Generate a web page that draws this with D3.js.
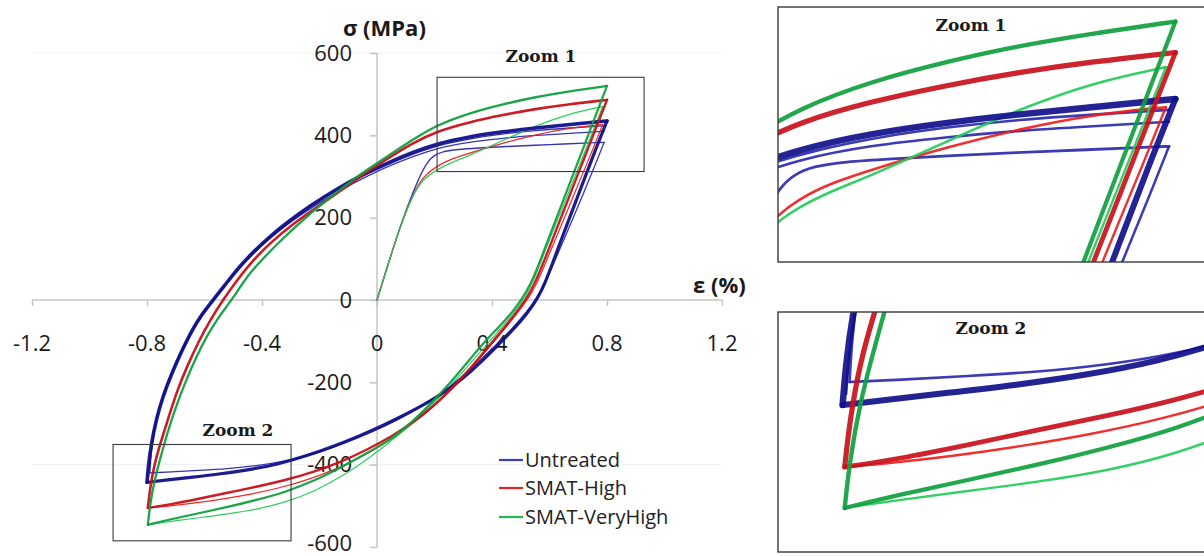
<!DOCTYPE html>
<html>
<head>
<meta charset="utf-8">
<script src="https://cdn.jsdelivr.net/npm/d3@7"></script>
<style>
  html, body { margin: 0; padding: 0; background: #fff; }
  svg { display: block; }
</style>
</head>
<body>
<svg id="chart" width="1204" height="556"></svg>
<script>
// ---------------- DATA ----------------
const xTicks = [-1.2, -0.8, -0.4, 0, 0.4, 0.8, 1.2];
const yTicks = [600, 400, 200, 0, -200, -400, -600];
const seriesNames = ["Untreated", "SMAT-High", "SMAT-VeryHigh"];
const xAxisTitle = "ε (%)";
const yAxisTitle = "σ (MPa)";
const zoomLabels = ["Zoom 1", "Zoom 2"];

// zoom boxes drawn on the main chart: [xmin, xmax, ymin, ymax]
const zoomBox1 = [0.209, 0.929, 312, 541];
const zoomBox2 = [-0.918, -0.299, -585, -351];
// data window shown in the magnified panels: [xmin, xmax, ymin, ymax]
const zoomView1 = [0.175, 0.845, 256, 536];
const zoomView2 = [-0.893, -0.28, -590, -350];

// Untreated (strain %, stress MPa)
const untreatedInitial = [[0,0],[0.04,90],[0.08,178],[0.125,262],[0.155,310],[0.178,338],[0.20,352],[0.23,361],[0.28,366],[0.35,369],[0.45,373],[0.55,376],[0.65,379],[0.75,382],[0.79,383]];
const untreatedCycle1Desc = [[0.79,383],[0.76,330],[0.72,262],[0.68,195],[0.64,130],[0.61,82],[0.585,42],[0.56,8],[0.52,-30],[0.47,-70],[0.41,-112],[0.35,-152],[0.29,-190],[0.22,-228],[0.15,-260],[0.07,-292],[-0.02,-322],[-0.12,-350],[-0.22,-374],[-0.32,-392],[-0.42,-403],[-0.52,-410],[-0.62,-414],[-0.72,-418],[-0.79,-420]];
const untreatedCycle1Asc = [[-0.79,-420],[-0.786,-370],[-0.772,-300],[-0.748,-235],[-0.715,-175],[-0.678,-118],[-0.64,-70],[-0.60,-28],[-0.56,8],[-0.52,42],[-0.48,76],[-0.43,113],[-0.37,152],[-0.30,190],[-0.22,228],[-0.13,266],[-0.03,303],[0.05,328],[0.13,350],[0.21,369],[0.32,384],[0.44,393],[0.55,400],[0.67,405],[0.79,410]];
const untreatedCycle2Asc = [[-0.795,-432],[-0.79,-385],[-0.777,-320],[-0.757,-260],[-0.73,-205],[-0.697,-150],[-0.66,-98],[-0.622,-52],[-0.585,-14],[-0.55,18],[-0.51,52],[-0.465,90],[-0.41,130],[-0.345,170],[-0.27,210],[-0.185,250],[-0.09,288],[0.0,318],[0.08,342],[0.16,364],[0.24,380],[0.34,394],[0.44,404],[0.55,412],[0.67,418],[0.79,423]];
const untreatedStabAsc = [[-0.80,-443],[-0.795,-400],[-0.785,-350],[-0.768,-290],[-0.745,-235],[-0.715,-180],[-0.68,-125],[-0.645,-75],[-0.61,-35],[-0.57,0],[-0.53,35],[-0.49,72],[-0.44,110],[-0.38,150],[-0.31,190],[-0.23,230],[-0.14,270],[-0.04,308],[0.045,335],[0.12,358],[0.209,380],[0.32,397],[0.44,409],[0.55,418],[0.67,426],[0.80,435]];
const untreatedStabDesc = [[0.80,435],[0.76,365],[0.72,292],[0.68,218],[0.64,145],[0.61,88],[0.585,42],[0.56,5],[0.52,-35],[0.47,-75],[0.42,-110],[0.36,-152],[0.30,-190],[0.24,-222],[0.17,-252],[0.10,-278],[0.02,-305],[-0.06,-330],[-0.15,-355],[-0.25,-380],[-0.35,-400],[-0.45,-413],[-0.55,-423],[-0.65,-431],[-0.74,-438],[-0.80,-443]];

// SMAT-High
const highInitial = [[0,0],[0.04,90],[0.08,178],[0.125,258],[0.16,300],[0.209,326],[0.26,343],[0.325,358],[0.44,382],[0.555,402],[0.67,418],[0.785,426]];
const highCycle1Desc = [[0.785,426],[0.75,365],[0.71,298],[0.67,230],[0.63,163],[0.595,105],[0.57,62],[0.545,25],[0.515,-8],[0.47,-48],[0.42,-90],[0.36,-140],[0.30,-188],[0.24,-232],[0.17,-275],[0.10,-313],[0.03,-348],[-0.05,-380],[-0.14,-410],[-0.24,-437],[-0.34,-457],[-0.44,-472],[-0.54,-484],[-0.64,-494],[-0.73,-501],[-0.797,-505]];
const highStabAsc = [[-0.797,-505],[-0.79,-460],[-0.775,-400],[-0.752,-345],[-0.725,-285],[-0.695,-220],[-0.66,-160],[-0.62,-100],[-0.58,-48],[-0.536,0],[-0.49,45],[-0.44,90],[-0.37,140],[-0.29,186],[-0.20,230],[-0.117,270],[-0.048,305],[0.035,343],[0.12,380],[0.209,410],[0.32,432],[0.44,450],[0.55,464],[0.67,476],[0.80,486]];
const highStabDesc = [[0.80,486],[0.76,415],[0.72,343],[0.68,272],[0.64,200],[0.60,128],[0.57,75],[0.545,35],[0.52,3],[0.48,-35],[0.43,-78],[0.37,-128],[0.31,-178],[0.25,-222],[0.19,-262],[0.12,-300],[0.05,-332],[-0.03,-362],[-0.12,-392],[-0.22,-418],[-0.32,-438],[-0.42,-454],[-0.52,-468],[-0.62,-483],[-0.72,-497],[-0.797,-505]];

// SMAT-VeryHigh
const veryHighInitial = [[0,0],[0.04,90],[0.08,178],[0.125,256],[0.16,294],[0.209,317],[0.26,334],[0.325,352],[0.44,388],[0.555,424],[0.67,453],[0.785,470]];
const veryHighCycle1Desc = [[0.785,470],[0.75,408],[0.71,338],[0.67,268],[0.63,198],[0.595,138],[0.57,92],[0.545,48],[0.52,12],[0.48,-28],[0.43,-70],[0.37,-118],[0.31,-166],[0.25,-212],[0.18,-262],[0.11,-308],[0.04,-348],[-0.03,-385],[-0.12,-428],[-0.22,-466],[-0.32,-492],[-0.42,-509],[-0.52,-520],[-0.62,-529],[-0.72,-538],[-0.797,-546]];
const veryHighStabAsc = [[-0.797,-546],[-0.79,-500],[-0.775,-440],[-0.752,-380],[-0.728,-320],[-0.70,-260],[-0.667,-200],[-0.63,-140],[-0.59,-85],[-0.55,-40],[-0.505,0],[-0.45,60],[-0.395,102],[-0.33,148],[-0.262,192],[-0.19,235],[-0.117,274],[-0.059,305],[0.0,332],[0.06,360],[0.13,392],[0.209,425],[0.32,454],[0.44,476],[0.55,493],[0.67,507],[0.80,520]];
const veryHighStabDesc = [[0.80,520],[0.76,447],[0.72,374],[0.68,301],[0.64,228],[0.60,155],[0.57,100],[0.545,55],[0.52,20],[0.48,-22],[0.43,-62],[0.38,-96],[0.31,-155],[0.25,-205],[0.19,-250],[0.12,-298],[0.05,-338],[-0.03,-370],[-0.12,-405],[-0.22,-440],[-0.32,-467],[-0.42,-486],[-0.52,-503],[-0.62,-518],[-0.72,-533],[-0.797,-546]];

// ---------------- STYLE / LAYOUT ----------------
const W = 1204, H = 556;
const colors = {
  blueThin: "#2a2ab0", blueThick: "#10108a",
  redThin: "#ee1c1c", redThick: "#c8101a",
  greenThin: "#22cc5a", greenThick: "#0f9f3e",
  legendBlue: "#3b3bc4", legendRed: "#de2424", legendGreen: "#27b552"
};
const curves = [
  { d: untreatedInitial, c: colors.blueThin, w: 1.4, pw: 2.8 },
  { d: untreatedCycle1Desc, c: colors.blueThin, w: 1.3, pw: 2.6 },
  { d: untreatedCycle1Asc, c: colors.blueThin, w: 1.3, pw: 2.6 },
  { d: untreatedCycle2Asc, c: colors.blueThin, w: 1.3, pw: 2.6 },
  { d: highInitial, c: colors.redThin, w: 1.3, pw: 2.6 },
  { d: highCycle1Desc, c: colors.redThin, w: 1.2, pw: 2.4 },
  { d: veryHighInitial, c: colors.greenThin, w: 1.3, pw: 2.6 },
  { d: veryHighCycle1Desc, c: colors.greenThin, w: 1.2, pw: 2.4 },
  { d: untreatedStabAsc, c: colors.blueThick, w: 3.6, pw: 6.5 },
  { d: untreatedStabDesc, c: colors.blueThick, w: 3.2, pw: 6.0 },
  { d: highStabAsc, c: colors.redThick, w: 2.6, pw: 5.2 },
  { d: highStabDesc, c: colors.redThick, w: 2.4, pw: 4.8 },
  { d: veryHighStabAsc, c: colors.greenThick, w: 2.3, pw: 4.4 },
  { d: veryHighStabDesc, c: colors.greenThick, w: 2.2, pw: 4.2 }
];

const svg = d3.select("#chart");
svg.append("rect").attr("width", W).attr("height", H).attr("fill", "#fff");

const x = d3.scaleLinear().domain([-1.2, 1.2]).range([32, 722]);
const y = d3.scaleLinear().domain([-600, 600]).range([547, 53]);

const sansFont = "'Open Sans', 'Liberation Sans', sans-serif";
const serifFont = "'DejaVu Serif', serif";
const curveType = d3.curveBasis;

// faint gridlines
svg.append("g").selectAll("line").data([600, -400]).join("line")
  .attr("x1", x(-1.2)).attr("x2", x(1.2))
  .attr("y1", d => y(d)).attr("y2", d => y(d))
  .attr("stroke", "#f1f1f1").attr("stroke-width", 1.2);

// x axis (through origin)
const xAxis = d3.axisBottom(x).tickValues(xTicks).tickSize(6).tickFormat("");
const gx = svg.append("g").attr("transform", `translate(0,${y(0)})`).call(xAxis);
gx.select(".domain").attr("stroke", "#c4c4c4").attr("stroke-width", 1.5).attr("d", `M${x(-1.2)},0H${x(1.2)}`);
gx.selectAll(".tick line").attr("stroke", "#c4c4c4").attr("stroke-width", 1.5);

// y axis (through origin)
const yAxis = d3.axisLeft(y).tickValues(yTicks).tickSize(7).tickFormat("");
const gy = svg.append("g").attr("transform", `translate(${x(0)},0)`).call(yAxis);
gy.select(".domain").attr("stroke", "#c4c4c4").attr("stroke-width", 1.5).attr("d", `M0,${y(600)}V${y(-600)}`);
gy.selectAll(".tick line").attr("stroke", "#c4c4c4").attr("stroke-width", 1.5);

// tick labels
svg.append("g").selectAll("text").data(xTicks).join("text")
  .attr("x", d => x(d)).attr("y", 351)
  .attr("text-anchor", "middle")
  .style("font-family", sansFont).style("font-size", "22px").attr("fill", "#1a1a1a")
  .text(d => String(d));
svg.append("g").selectAll("text").data(yTicks).join("text")
  .attr("x", 352).attr("y", d => Math.min(y(d) + 7.5, 551))
  .attr("text-anchor", "end")
  .style("font-family", sansFont).style("font-size", "22px").attr("fill", "#1a1a1a")
  .text(d => String(d));

// axis titles
svg.append("text").attr("x", 343).attr("y", 36)
  .style("font-family", sansFont).style("font-size", "22px").style("font-weight", "bold")
  .attr("fill", "#1a1a1a").text(yAxisTitle);
svg.append("text").attr("x", 693).attr("y", 293)
  .style("font-family", sansFont).style("font-size", "22px").style("font-weight", "bold")
  .attr("fill", "#1a1a1a").text(xAxisTitle);

// curves on main chart
const lineMain = d3.line().x(d => x(d[0])).y(d => y(d[1])).curve(curveType);
svg.append("g").selectAll("path").data(curves).join("path")
  .attr("d", c => lineMain(c.d)).attr("fill", "none")
  .attr("stroke", c => c.c).attr("stroke-width", c => c.w)
  .attr("stroke-linejoin", "round").attr("stroke-linecap", "round").attr("opacity", 0.95);

// zoom boxes
[zoomBox1, zoomBox2].forEach(b => {
  svg.append("rect")
    .attr("x", x(b[0])).attr("y", y(b[3]))
    .attr("width", x(b[1]) - x(b[0])).attr("height", y(b[2]) - y(b[3]))
    .attr("fill", "none").attr("stroke", "#3a3a3a").attr("stroke-width", 1.1);
});
svg.append("text").attr("x", 541).attr("y", 62).attr("text-anchor", "middle")
  .style("font-family", serifFont).style("font-size", "17px").style("font-weight", "bold")
  .attr("fill", "#1a1a1a").text(zoomLabels[0]);
svg.append("text").attr("x", 238).attr("y", 436).attr("text-anchor", "middle")
  .style("font-family", serifFont).style("font-size", "17px").style("font-weight", "bold")
  .attr("fill", "#1a1a1a").text(zoomLabels[1]);

// legend
const legendColors = [colors.legendBlue, colors.legendRed, colors.legendGreen];
const legendY = [460, 488, 517];
const lg = svg.append("g");
seriesNames.forEach((n, i) => {
  lg.append("line").attr("x1", 499).attr("x2", 523).attr("y1", legendY[i]).attr("y2", legendY[i])
    .attr("stroke", legendColors[i]).attr("stroke-width", 2.2);
  lg.append("text").attr("x", 525).attr("y", legendY[i] + 7)
    .style("font-family", sansFont).style("font-size", "20px").attr("fill", "#222").text(n);
});

// magnified panels
function panel(id, view, px0, py0, px1, py1, label, lx, ly) {
  const sx = d3.scaleLinear().domain([view[0], view[1]]).range([px0, px1]);
  const sy = d3.scaleLinear().domain([view[2], view[3]]).range([py1, py0]);
  svg.append("clipPath").attr("id", id).append("rect")
    .attr("x", px0).attr("y", py0).attr("width", px1 - px0).attr("height", py1 - py0);
  const g = svg.append("g").attr("clip-path", `url(#${id})`);
  g.append("rect").attr("x", px0).attr("y", py0).attr("width", px1 - px0).attr("height", py1 - py0).attr("fill", "#fff");
  const ln = d3.line().x(d => sx(d[0])).y(d => sy(d[1])).curve(curveType);
  g.selectAll("path").data(curves).join("path")
    .attr("d", c => ln(c.d)).attr("fill", "none")
    .attr("stroke", c => c.c).attr("stroke-width", c => c.pw)
    .attr("stroke-linejoin", "round").attr("stroke-linecap", "round").attr("opacity", 0.92);
  svg.append("rect").attr("x", px0).attr("y", py0).attr("width", px1 - px0 + 20).attr("height", py1 - py0)
    .attr("fill", "none").attr("stroke", "#3a3a3a").attr("stroke-width", 1.4);
  svg.append("text").attr("x", lx).attr("y", ly).attr("text-anchor", "middle")
    .style("font-family", serifFont).style("font-size", "17px").style("font-weight", "bold")
    .attr("fill", "#1a1a1a").text(label);
}
panel("clip1", zoomView1, 778, 7, 1204, 262, zoomLabels[0], 971, 31);
panel("clip2", zoomView2, 778, 312, 1204, 552, zoomLabels[1], 991, 334);
</script>
</body>
</html>
